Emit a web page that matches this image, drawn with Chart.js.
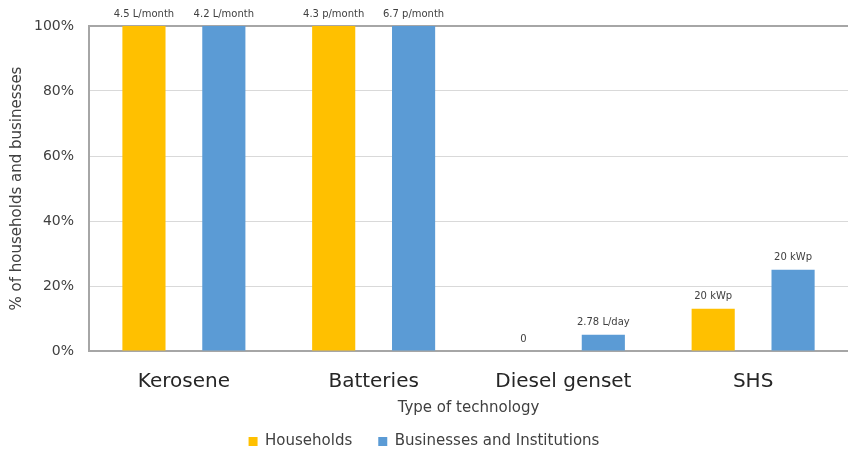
<!DOCTYPE html>
<html>
<head>
<meta charset="utf-8">
<script src="https://cdn.jsdelivr.net/npm/chart.js@4/dist/chart.umd.min.js"></script>
<style>
  html, body { margin: 0; padding: 0; background: #ffffff; }
  #wrap { width: 848px; height: 450px; position: relative; }
</style>
</head>
<body>
<div id="wrap"><canvas id="chart" width="848" height="450"></canvas></div>
<script>
// Technologies surveyed
const categories = ['Kerosene', 'Batteries', 'Diesel genset', 'SHS'];

// Share of respondents using each technology (%)
const households = [100, 100, 0, 13];
const businesses = [100, 100, 5, 25];

// Typical consumption / capacity, shown above each bar
const householdLabels = ['4.5 L/month', '4.3 p/month', '0', '20 kWp'];
const businessLabels = ['4.2 L/month', '6.7 p/month', '2.78 L/day', '20 kWp'];

// Y axis ticks (%)
const yTicks = [0, 20, 40, 60, 80, 100];

const FONT = "'DejaVu Sans', sans-serif";

// Writes the consumption text above each bar
const barTextPlugin = {
  id: 'barText',
  afterDatasetsDraw(chart) {
    const ctx = chart.ctx;
    ctx.save();
    ctx.font = '10px ' + FONT;
    ctx.fillStyle = '#404040';
    ctx.textAlign = 'center';
    ctx.textBaseline = 'bottom';
    chart.data.datasets.forEach((ds, di) => {
      const meta = chart.getDatasetMeta(di);
      meta.data.forEach((bar, i) => {
        ctx.fillText(ds.valueText[i], bar.x, bar.y - 7);
      });
    });
    ctx.restore();
  }
};

new Chart(document.getElementById('chart'), {
  type: 'bar',
  data: {
    labels: categories,
    datasets: [
      {
        label: 'Households',
        data: households,
        valueText: householdLabels,
        backgroundColor: '#ffc000',
        borderWidth: 0,
        categoryPercentage: 0.842,
        barPercentage: 0.54
      },
      {
        label: 'Businesses and Institutions',
        data: businesses,
        valueText: businessLabels,
        backgroundColor: '#5b9bd5',
        borderWidth: 0,
        categoryPercentage: 0.842,
        barPercentage: 0.54
      }
    ]
  },
  options: {
    responsive: false,
    animation: false,
    layout: { padding: { top: 26, right: 0, left: 0, bottom: -9 } },
    plugins: {
      legend: {
        position: 'bottom',
        labels: {
          font: { family: FONT, size: 15 },
          color: '#404040',
          boxWidth: 9,
          boxHeight: 9,
          padding: 26
        }
      },
      tooltip: { enabled: false }
    },
    scales: {
      x: {
        grid: { display: false, drawTicks: false },
        border: { color: '#a6a6a6', width: 2 },
        ticks: {
          font: { family: FONT, size: 20 },
          color: '#262626',
          padding: 19
        },
        title: {
          display: true,
          text: 'Type of technology',
          font: { family: FONT, size: 15 },
          color: '#404040',
          padding: { top: -14, bottom: -9 }
        }
      },
      y: {
        min: 0,
        max: 100,
        afterBuildTicks(axis) {
          axis.ticks = yTicks.map(v => ({ value: v }));
        },
        grid: {
          drawTicks: false,
          color: ctx => (ctx.tick && ctx.tick.value === 100) ? '#a6a6a6' : '#d9d9d9',
          lineWidth: ctx => (ctx.tick && ctx.tick.value === 100) ? 2 : 1
        },
        border: { color: '#a6a6a6', width: 2 },
        ticks: {
          font: { family: FONT, size: 14 },
          color: '#404040',
          padding: 15,
          callback: v => v + '%'
        },
        title: {
          display: true,
          text: '% of households and businesses',
          font: { family: FONT, size: 15 },
          color: '#404040',
          padding: { top: 8, bottom: -7 }
        }
      }
    }
  },
  plugins: [barTextPlugin]
});
</script>
</body>
</html>
